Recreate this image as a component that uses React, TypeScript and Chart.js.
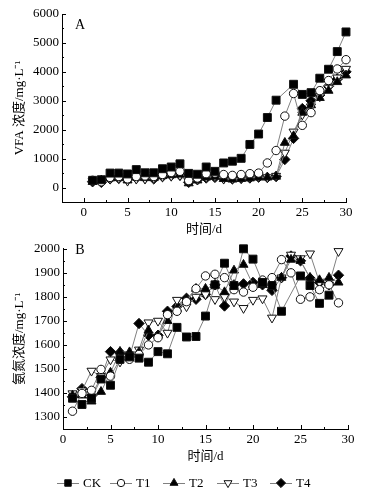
import React, { useEffect, useRef } from 'react';
import { Chart, registerables } from 'chart.js';
Chart.register(...registerables);

const FONT = "'Liberation Serif', 'Noto Sans CJK SC', serif";

// ---------- Panel A: VFA concentration ----------
const daysA = [1, 2, 3, 4, 5, 6, 7, 8, 9, 10, 11, 12, 13, 14, 15, 16, 17, 18, 19, 20, 21, 22, 23, 24, 25, 26, 27, 28, 29, 30];
const vfaCK = [250, 270, 500, 500, 470, 620, 510, 510, 650, 710, 820, 490, 460, 710, 560, 850, 910, 1010, 1490, 1850, 2420, 3020, null, 3570, 3220, 3280, 3780, 4090, 4700, 5380];
const vfaT1 = [250, 200, 350, 380, 300, 380, 400, 380, 450, 520, 560, 240, 330, 480, 500, 450, 420, 450, 480, 500, 850, 1280, 2470, 3250, 2150, 2590, 3350, 3700, 4100, 4420];
const vfaT2 = [200, 250, 320, 330, 250, 350, 330, 330, 400, 430, 450, 150, 250, 350, 380, 300, 280, 300, 320, 350, 350, 380, 1550, 1780, 2590, 2850, 3100, 3350, 3650, 3880];
const vfaT3 = [230, 230, 300, 320, 230, 300, 300, 320, 380, 400, 420, 200, 280, 350, 380, 300, 300, 320, 350, 380, 350, 400, 1200, 1930, 2520, 2800, 3150, 3450, 3800, 4100];
const vfaT4 = [200, 180, 300, 320, 280, 330, 330, 300, 380, 420, 430, 180, 270, 330, 350, 320, 300, 320, 330, 360, 350, 380, 970, 1700, 2730, 3000, 3200, 3500, 3750, 4000];
const xTicksA = [0, 5, 10, 15, 20, 25, 30];
const yTicksA = [0, 1000, 2000, 3000, 4000, 5000, 6000];

// ---------- Panel B: ammonia nitrogen ----------
const daysB = [1, 2, 3, 4, 5, 6, 7, 8, 9, 10, 11, 12, 13, 14, 15, 16, 17, 18, 19, 20, 21, 22, 23, 24, 25, 26, 27, 28, 29];
const nhCK = [1378, 1352, 1378, 1458, 1432, 1540, 1550, 1545, 1528, 1572, 1563, 1673, 1633, 1635, 1720, 1850, 1940, 1847, 2000, 1957, 1860, 1847, 1740, null, 1887, 1847, 1773, 1807, null];
const nhT1 = [1324, 1398, 1411, 1498, 1470, 1540, 1540, 1560, 1600, 1630, 1726, 1740, 1780, 1834, 1887, 1894, 1880, 1830, 1820, 1840, 1870, 1880, 1955, 1900, 1790, 1800, 1830, 1850, 1775];
const nhT2 = [1390, 1390, 1365, 1405, 1485, 1572, 1570, 1570, 1660, 1640, 1700, 1750, 1790, 1834, 1834, 1850, 1820, 1910, 1934, 1850, 1850, 1860, 1880, 1955, 1950, 1880, 1870, 1880, 1860];
const nhT3 = [1398, 1410, 1492, 1470, 1539, 1530, 1560, 1580, 1693, 1700, 1650, 1787, 1760, 1800, 1810, 1790, 1800, 1780, 1753, 1787, 1793, 1713, 1880, 1975, 1960, 1980, 1860, 1850, 1990];
const nhT4 = [1384, 1418, 1390, 1465, 1572, 1568, 1550, 1689, 1640, 1640, 1740, 1760, 1794, 1790, 1810, 1850, 1762, 1850, 1854, 1860, 1850, 1827, 1880, 1970, 1950, 1878, 1860, 1850, 1890];
const xTicksB = [0, 5, 10, 15, 20, 25, 30];
const yTicksB = [1300, 1400, 1500, 1600, 1700, 1800, 1900, 2000];

const seriesLabels = ['CK', 'T1', 'T2', 'T3', 'T4'];

const STYLES = [
  { pointStyle: 'rect', fill: '#000', r: 5.6, rot: 0 },
  { pointStyle: 'circle', fill: '#fff', r: 4.2, rot: 0 },
  { pointStyle: 'triangle', fill: '#000', r: 5.2, rot: 0 },
  { pointStyle: 'triangle', fill: '#fff', r: 5.2, rot: 180 },
  { pointStyle: 'rectRot', fill: '#000', r: 5.2, rot: 0 },
];

function makeDatasets(days: number[], series: (number | null)[][]) {
  return series.map((vals, i) => {
    const s = STYLES[i];
    return {
      label: seriesLabels[i],
      data: days.map((d, j) => ({ x: d, y: vals[j] })),
      borderColor: '#808080',
      borderWidth: 1,
      pointStyle: s.pointStyle,
      pointRotation: s.rot,
      pointRadius: s.r,
      pointBackgroundColor: s.fill,
      pointBorderColor: '#111',
      pointBorderWidth: 1,
      spanGaps: true,
      clip: false,
      tension: 0,
    };
  });
}

const innerTicks = {
  id: 'innerTicks',
  afterDraw(chart: any, _args: any, opts: any) {
    const { ctx, chartArea: a, scales } = chart;
    const xs = scales.x, ys = scales.y;
    ctx.save();
    ctx.strokeStyle = '#000';
    ctx.lineWidth = 1;
    const isMajor = (v: number, step: number) => Math.abs(v / step - Math.round(v / step)) < 1e-6;
    for (let v = xs.min; v <= xs.max + 1e-6; v += opts.xMinor) {
      const px = Math.round(xs.getPixelForValue(v)) + 0.5;
      const len = isMajor(v, opts.xMajor) ? 4 : 2;
      ctx.beginPath();
      ctx.moveTo(px, a.bottom);
      ctx.lineTo(px, a.bottom - len);
      ctx.stroke();
    }
    for (let v = ys.min; v <= ys.max + 1e-6; v += opts.yMinor) {
      const py = Math.round(ys.getPixelForValue(v)) + 0.5;
      const len = isMajor(v, opts.yMajor) ? 4 : 2;
      ctx.beginPath();
      ctx.moveTo(a.left, py);
      ctx.lineTo(a.left + len, py);
      ctx.stroke();
    }
    if (opts.label) {
      ctx.fillStyle = '#000';
      ctx.font = `14px ${FONT}`;
      ctx.textAlign = 'center';
      ctx.textBaseline = 'middle';
      ctx.fillText(opts.label, opts.labelX, opts.labelY);
    }
    ctx.restore();
  },
};

function drawMarker(ctx: CanvasRenderingContext2D, idx: number, x: number, y: number, r: number) {
  const s = STYLES[idx];
  ctx.beginPath();
  if (s.pointStyle === 'rect') {
    const h = r * Math.SQRT1_2;
    ctx.rect(x - h, y - h, 2 * h, 2 * h);
  } else if (s.pointStyle === 'circle') {
    ctx.arc(x, y, r * 0.8, 0, Math.PI * 2);
  } else if (s.pointStyle === 'triangle') {
    const rad = (s.rot * Math.PI) / 180;
    for (let k = 0; k < 3; k++) {
      const ang = rad + (k * 2 * Math.PI) / 3;
      const px = x + Math.sin(ang) * r;
      const py = y - Math.cos(ang) * r;
      if (k === 0) ctx.moveTo(px, py); else ctx.lineTo(px, py);
    }
    ctx.closePath();
  } else {
    ctx.moveTo(x, y - r);
    ctx.lineTo(x + r, y);
    ctx.lineTo(x, y + r);
    ctx.lineTo(x - r, y);
    ctx.closePath();
  }
  ctx.fillStyle = s.fill;
  ctx.fill();
  ctx.strokeStyle = '#111';
  ctx.lineWidth = 1;
  ctx.stroke();
}

const legendPlugin = {
  id: 'bottomLegend',
  afterDraw(chart: any) {
    const ctx = chart.ctx as CanvasRenderingContext2D;
    const y = 245;
    const starts = [57, 110, 163, 217, 270];
    ctx.save();
    seriesLabels.forEach((lab, i) => {
      const x0 = starts[i];
      ctx.strokeStyle = '#808080';
      ctx.lineWidth = 1;
      ctx.beginPath();
      ctx.moveTo(x0, y + 0.5);
      ctx.lineTo(x0 + 22, y + 0.5);
      ctx.stroke();
      drawMarker(ctx, i, x0 + 11, y, 4.6);
      ctx.fillStyle = '#000';
      ctx.font = `13px ${FONT}`;
      ctx.textAlign = 'left';
      ctx.textBaseline = 'middle';
      ctx.fillText(lab, x0 + 26, y + 1);
    });
    ctx.restore();
  },
};

function baseScales(o: any) {
  const tickFont = { family: FONT, size: 13 };
  const plain = (v: any) => String(v);
  return {
    x: {
      type: 'linear',
      min: o.xMin,
      max: o.xMax,
      afterBuildTicks: (s: any) => { s.ticks = o.xTicks.map((v: number) => ({ value: v })); },
      afterFit: (s: any) => { s.height = o.xHeight; },
      grid: { display: false, drawTicks: false },
      border: { display: true, color: '#000', width: 1 },
      ticks: { padding: 3, color: '#000', font: tickFont, maxRotation: 0, callback: plain },
      title: { display: true, text: '时间/d', color: '#000', font: { family: FONT, size: 13 }, padding: { top: 0, bottom: o.xTitlePad } },
    },
    y: {
      type: 'linear',
      min: o.yMin,
      max: o.yMax,
      afterBuildTicks: (s: any) => { s.ticks = o.yTicks.map((v: number) => ({ value: v })); },
      afterFit: (s: any) => { s.width = o.yWidth; },
      grid: { display: false, drawTicks: false },
      border: { display: true, color: '#000', width: 1 },
      ticks: { padding: 3, color: '#000', font: tickFont, callback: plain },
      title: { display: true, text: o.yTitle, color: '#000', font: { family: FONT, size: 13 }, padding: { top: 12, bottom: 0 } },
    },
  };
}

export default function App() {
  const refA = useRef<HTMLCanvasElement>(null);
  const refB = useRef<HTMLCanvasElement>(null);

  useEffect(() => {
    Chart.defaults.font.family = FONT;
    const chartA = new Chart(refA.current as HTMLCanvasElement, {
      type: 'line',
      data: { datasets: makeDatasets(daysA, [vfaCK, vfaT1, vfaT2, vfaT3, vfaT4]) as any },
      options: {
        responsive: false,
        animation: false,
        layout: { padding: { left: 0, top: 14, right: 33, bottom: 0 } },
        plugins: {
          legend: { display: false },
          tooltip: { enabled: false },
          innerTicks: { xMajor: 5, xMinor: 2.5, yMajor: 1000, yMinor: 500, label: 'A', labelX: 80, labelY: 25 },
        } as any,
        scales: baseScales({
          xMin: -2.5, xMax: 30, xTicks: xTicksA, xHeight: 36, xTitlePad: 1,
          yMin: -500, yMax: 6000, yTicks: yTicksA, yWidth: 62, yTitle: 'VFA 浓度/mg·L⁻¹',
        }) as any,
      },
      plugins: [innerTicks],
    });
    const chartB = new Chart(refB.current as HTMLCanvasElement, {
      type: 'line',
      data: { datasets: makeDatasets(daysB, [nhCK, nhT1, nhT2, nhT3, nhT4]) as any },
      options: {
        responsive: false,
        animation: false,
        layout: { padding: { left: 0, top: 4, right: 31, bottom: 30 } },
        plugins: {
          legend: { display: false },
          tooltip: { enabled: false },
          innerTicks: { xMajor: 5, xMinor: 2.5, yMajor: 100, yMinor: 50, label: 'B', labelX: 80, labelY: 12 },
        } as any,
        scales: baseScales({
          xMin: 0, xMax: 30, xTicks: xTicksB, xHeight: 38, xTitlePad: 3,
          yMin: 1250, yMax: 2000, yTicks: yTicksB, yWidth: 63, yTitle: '氨氮浓度/mg·L⁻¹',
        }) as any,
      },
      plugins: [innerTicks, legendPlugin],
    });
    return () => {
      chartA.destroy();
      chartB.destroy();
    };
  }, []);

  return (
    <div style={{ position: 'fixed', left: 0, top: 0, width: 379, height: 497, background: '#fff' }}>
      <canvas ref={refA} width={379} height={238} style={{ display: 'block', width: 379, height: 238 }} />
      <canvas ref={refB} width={379} height={259} style={{ display: 'block', width: 379, height: 259 }} />
    </div>
  );
}
